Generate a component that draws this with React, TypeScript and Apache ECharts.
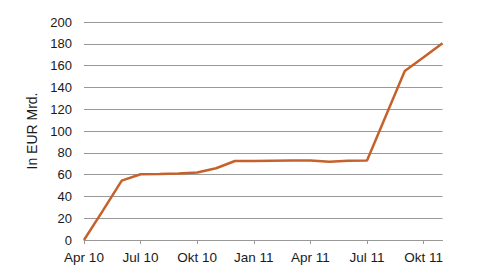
import React, { useEffect, useRef } from "react";
import * as echarts from "echarts";

const months = [
  "Apr 10", "Mai 10", "Jun 10", "Jul 10", "Aug 10", "Sep 10", "Okt 10", "Nov 10", "Dez 10",
  "Jan 11", "Feb 11", "Mär 11", "Apr 11", "Mai 11", "Jun 11", "Jul 11", "Aug 11", "Sep 11",
  "Okt 11", "Nov 11",
];
const values = [
  0, 27, 54.5, 60.3, 60.5, 61, 62, 65.8, 72.5, 72.5, 72.8, 73, 73, 71.8, 72.7, 73, 114, 155, 167.6, 180.5,
];
const yTicks = [0, 20, 40, 60, 80, 100, 120, 140, 160, 180, 200];
const yName = "In EUR Mrd.";

export default function App() {
  const ref = useRef<HTMLDivElement>(null);
  useEffect(() => {
    if (!ref.current) return;
    const chart = echarts.init(ref.current, undefined, { renderer: "svg" });
    const font = "'Liberation Sans', Arial, sans-serif";
    chart.setOption({
      animation: false,
      grid: { left: 84, right: 37.5, top: 22, bottom: 38 },
      xAxis: {
        type: "category",
        data: months,
        boundaryGap: false,
        axisLine: { lineStyle: { color: "#999999", width: 1 } },
        axisTick: {
          length: 4,
          interval: (i: number) => i % 3 === 0,
          lineStyle: { color: "#999999" },
        },
        axisLabel: {
          interval: (i: number) => i % 3 === 0,
          margin: 10,
          fontSize: 13.5,
          fontFamily: font,
          color: "#1a1a1a",
        },
        splitLine: { show: false },
      },
      yAxis: {
        type: "value",
        min: yTicks[0],
        max: yTicks[yTicks.length - 1],
        interval: 20,
        name: yName,
        nameLocation: "middle",
        nameGap: 42,
        nameTextStyle: { fontSize: 14, fontFamily: font, color: "#1a1a1a" },
        axisLine: { show: false },
        axisTick: { show: false },
        axisLabel: { margin: 12, fontSize: 13, fontFamily: font, color: "#1a1a1a" },
        splitLine: { lineStyle: { color: "#999999", width: 1 } },
      },
      series: [
        {
          type: "line",
          data: values,
          showSymbol: false,
          lineStyle: { color: "#C5622B", width: 2.5 },
          itemStyle: { color: "#C5622B" },
        },
      ],
    });
    return () => chart.dispose();
  }, []);
  return <div ref={ref} style={{ width: 480, height: 278, margin: -8 }} />;
}
